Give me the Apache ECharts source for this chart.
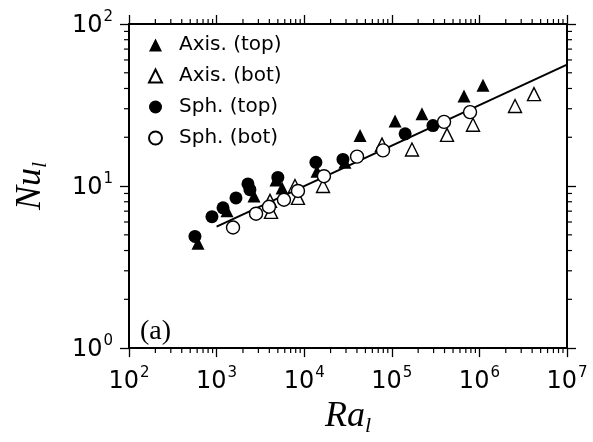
<!DOCTYPE html>
<html>
<head>
<meta charset="utf-8">
<script src="https://cdn.jsdelivr.net/npm/echarts@6/dist/echarts.min.js"></script>
<style>
  html, body { margin: 0; padding: 0; background: #fff; }
  #chart { width: 593px; height: 442px; }
</style>
</head>
<body>
<div id="chart"></div>
<script>
// Nusselt vs Rayleigh number, local values, log-log
const axisTop = [
  [613, 4.43], [1315, 7.05], [2673, 8.69], [4764, 10.9], [5585, 9.72],
  [14000, 12.35], [29200, 14.0], [43400, 20.5], [109000, 25.2],
  [221000, 27.9], [667000, 35.9], [1100000, 41.9]
];
const axisBot = [
  [4070, 8.1], [4180, 6.93], [7850, 10.0], [8490, 8.45], [16400, 10.0],
  [77300, 18.0], [170000, 16.8], [427000, 20.7], [845000, 23.9],
  [2550000, 31.2], [4200000, 36.9]
];
const sphTop = [
  [566, 4.89], [885, 6.47], [1184, 7.34], [1664, 8.45], [2280, 10.3],
  [2400, 9.5], [5000, 11.3], [13600, 14.0], [27700, 14.6],
  [142000, 21.0], [295000, 23.6]
];
const sphBot = [
  [1540, 5.55], [2820, 6.75], [3960, 7.45], [5870, 8.23], [8490, 9.33],
  [16800, 11.5], [40100, 15.2], [79400, 16.6], [395000, 24.9], [782000, 28.6]
];
// fitted line Nu = Ra^(1/4), end points
const fitLine = [[1000, 5.62], [10000000, 56.2]];

const seriesNames = ['Axis. (top)', 'Axis. (bot)', 'Sph. (top)', 'Sph. (bot)'];
const xRange = [100, 10000000];
const yRange = [1, 100];
const xMinorTicks = [];
for (let k = 2; k < 7; k++) for (let m = 2; m <= 9; m++) xMinorTicks.push(m * Math.pow(10, k));
const yMinorTicks = [];
for (let k = 0; k < 2; k++) for (let m = 2; m <= 9; m++) yMinorTicks.push(m * Math.pow(10, k));

const sans = 'DejaVu Sans';
const serif = 'Liberation Serif';

function powLabel(v) {
  const e = Math.round(Math.log10(v));
  return '{b|10}{s|' + e + '}';
}
const powRich = {
  b: { fontFamily: sans, fontSize: 24, color: '#000', lineHeight: 28, verticalAlign: 'bottom' },
  s: { fontFamily: sans, fontSize: 15, color: '#000', lineHeight: 28, verticalAlign: 'top', padding: [0, 0, 0, 1] }
};
const nameRich = {
  m: { fontFamily: serif, fontStyle: 'italic', fontSize: 36, color: '#000', lineHeight: 38, verticalAlign: 'top' },
  l: { fontFamily: serif, fontStyle: 'italic', fontSize: 22, color: '#000', lineHeight: 38, verticalAlign: 'bottom' }
};

const tickStyle = { color: '#000', width: 1.3 };
const lineStyle = { color: '#000', width: 2 };

const chart = echarts.init(document.getElementById('chart'), null, { renderer: 'canvas' });

function minorTickSeries(kind) {
  const data = kind === 'x' ? xMinorTicks.map(v => [v, 1]) : yMinorTicks.map(v => [100, v]);
  return {
    type: 'custom',
    silent: true,
    clip: false,
    z: 5,
    data: data,
    renderItem: function (params, api) {
      const cs = params.coordSys;
      const p = api.coord([api.value(0), api.value(1)]);
      const L = 5;
      let lines;
      if (kind === 'x') {
        lines = [
          [p[0], cs.y + cs.height, p[0], cs.y + cs.height + L],
          [p[0], cs.y, p[0], cs.y - L]
        ];
      } else {
        lines = [
          [cs.x, p[1], cs.x - L, p[1]],
          [cs.x + cs.width, p[1], cs.x + cs.width + L, p[1]]
        ];
      }
      return {
        type: 'group',
        children: lines.map(l => ({
          type: 'line',
          shape: { x1: l[0], y1: l[1], x2: l[2], y2: l[3] },
          style: { stroke: '#000', lineWidth: 1.2 }
        }))
      };
    }
  };
}

const filled = { color: '#000', opacity: 1 };
const hollow = { color: '#fff', borderColor: '#000', borderWidth: 1.4, opacity: 1 };

chart.setOption({
  animation: false,
  backgroundColor: '#fff',
  title: {
    text: '(a)',
    left: 135,
    top: 313,
    textStyle: { fontFamily: serif, fontSize: 28, fontWeight: 'normal', color: '#000' }
  },
  legend: {
    data: seriesNames,
    orient: 'vertical',
    left: 143,
    top: 30,
    itemWidth: 13,
    itemHeight: 13,
    itemGap: 11,
    textStyle: { fontFamily: sans, fontSize: 20, color: '#000', padding: [0, 0, 0, 12] }
  },
  grid: { left: 129, right: 26, top: 24, bottom: 90 },
  xAxis: [
    {
      type: 'log', min: xRange[0], max: xRange[1], position: 'bottom',
      name: '{m|Ra}{l|l}', nameLocation: 'middle', nameGap: 48,
      nameTextStyle: { rich: nameRich },
      axisLine: { show: true, onZero: false, lineStyle: lineStyle },
      axisTick: { show: true, inside: false, length: 9, lineStyle: tickStyle },
      axisLabel: { margin: 18, formatter: powLabel, rich: powRich },
      splitLine: { show: false }
    },
    {
      type: 'log', min: xRange[0], max: xRange[1], position: 'top',
      axisLine: { show: true, onZero: false, lineStyle: lineStyle },
      axisTick: { show: true, inside: false, length: 9, lineStyle: tickStyle },
      axisLabel: { show: false },
      splitLine: { show: false }
    }
  ],
  yAxis: [
    {
      type: 'log', min: yRange[0], max: yRange[1], position: 'left',
      name: '{m|Nu}{l|l}', nameLocation: 'middle', nameGap: 78, nameRotate: 90,
      nameTextStyle: { rich: nameRich },
      axisLine: { show: true, onZero: false, lineStyle: lineStyle },
      axisTick: { show: true, inside: false, length: 9, lineStyle: tickStyle },
      axisLabel: { margin: 16, formatter: powLabel, rich: powRich },
      splitLine: { show: false }
    },
    {
      type: 'log', min: yRange[0], max: yRange[1], position: 'right',
      axisLine: { show: true, onZero: false, lineStyle: lineStyle },
      axisTick: { show: true, inside: false, length: 9, lineStyle: tickStyle },
      axisLabel: { show: false },
      splitLine: { show: false }
    }
  ],
  series: [
    {
      type: 'line', data: fitLine, symbol: 'none', silent: true, z: 2,
      lineStyle: { color: '#000', width: 2 }
    },
    { name: seriesNames[0], type: 'scatter', data: axisTop, symbol: 'triangle', symbolSize: 13, itemStyle: filled, z: 3 },
    { name: seriesNames[1], type: 'scatter', data: axisBot, symbol: 'triangle', symbolSize: 13, itemStyle: hollow, z: 3 },
    { name: seriesNames[2], type: 'scatter', data: sphTop, symbol: 'circle', symbolSize: 13, itemStyle: filled, z: 3 },
    { name: seriesNames[3], type: 'scatter', data: sphBot, symbol: 'circle', symbolSize: 13, itemStyle: hollow, z: 3 },
    minorTickSeries('x'),
    minorTickSeries('y')
  ]
});
</script>
</body>
</html>
